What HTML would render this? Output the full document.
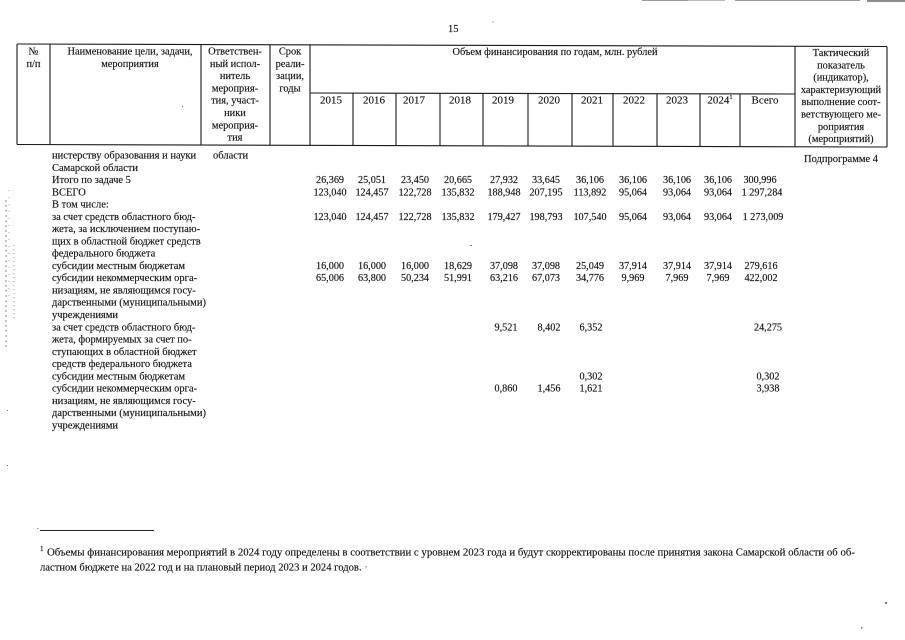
<!DOCTYPE html>
<html><head><meta charset="utf-8"><style>
html,body{margin:0;padding:0;background:#fff;}
svg{display:block;}
text{font-family:"Liberation Serif","DejaVu Serif",serif;fill:#141414;stroke:#141414;stroke-width:0.15;}
</style></head><body>
<svg width="905" height="640" viewBox="0 0 905 640" xmlns="http://www.w3.org/2000/svg">
<rect width="905" height="640" fill="#fff"/>
<!-- scan artifacts -->
<g stroke="#9a9a9a" stroke-width="1" fill="none">
<line x1="642" y1="0.5" x2="700" y2="0.5"/>
<line x1="688" y1="0.5" x2="725" y2="0.5" stroke="#bbb"/>
<line x1="735" y1="0.5" x2="860" y2="0.5"/>
<line x1="867" y1="1" x2="905" y2="1" stroke="#666" stroke-width="1.5"/>
<line x1="6" y1="200" x2="6" y2="350" stroke-dasharray="2,3" stroke="#888"/>
<line x1="14" y1="245" x2="14" y2="320" stroke-dasharray="1,3" stroke="#999"/>
<line x1="9" y1="190" x2="9" y2="300" stroke-dasharray="1,6" stroke="#aaa"/>
</g>
<g fill="#777">
<rect x="492.5" y="21.5" width="1" height="1"/>
<rect x="182" y="106" width="1" height="1"/>
<rect x="885" y="602" width="2" height="2"/>
<rect x="861" y="627" width="1.5" height="1.5"/>
<rect x="470" y="245" width="2" height="1"/>
<rect x="7" y="410" width="1" height="1"/>
<rect x="7" y="465" width="1" height="1"/>
</g>

<!-- page number -->
<text x="448" y="32" font-size="10.5">15</text>

<!-- table lines -->
<g stroke="#1a1a1a" stroke-width="1.1" fill="none">
<line x1="17" y1="44" x2="887" y2="46.5"/>
<line x1="17" y1="144.5" x2="887" y2="147"/>
<line x1="310" y1="93" x2="795" y2="94"/>
<line x1="17" y1="44" x2="17" y2="144.5"/>
<line x1="50" y1="44.1" x2="50" y2="144.6"/>
<line x1="201" y1="44.5" x2="201" y2="145"/>
<line x1="270" y1="44.7" x2="270" y2="145.2"/>
<line x1="310" y1="44.8" x2="310" y2="145.3"/>
<line x1="795" y1="46.2" x2="795" y2="146.7"/>
<line x1="887" y1="46.5" x2="887" y2="147"/>
<line x1="353" y1="93.1" x2="353" y2="145.4"/>
<line x1="396" y1="93.2" x2="396" y2="145.6"/>
<line x1="440" y1="93.3" x2="440" y2="145.7"/>
<line x1="483" y1="93.4" x2="483" y2="145.8"/>
<line x1="528" y1="93.5" x2="528" y2="145.9"/>
<line x1="572" y1="93.5" x2="572" y2="146"/>
<line x1="613" y1="93.6" x2="613" y2="146.2"/>
<line x1="657" y1="93.7" x2="657" y2="146.3"/>
<line x1="700" y1="93.8" x2="700" y2="146.4"/>
<line x1="740" y1="93.9" x2="740" y2="146.5"/>
</g>

<!-- header text -->
<g font-size="10.4" text-anchor="middle">
<text x="33.5" y="54.5">№</text>
<text x="33.5" y="66.8">п/п</text>
<text x="130" y="54.5">Наименование цели, задачи,</text>
<text x="130" y="66.8">мероприятия</text>
<text x="235" y="54.5">Ответствен-</text>
<text x="235" y="66.8">ный испол-</text>
<text x="235" y="79.1">нитель</text>
<text x="235" y="91.4">мероприя-</text>
<text x="235" y="103.7">тия, участ-</text>
<text x="235" y="116">ники</text>
<text x="235" y="128.3">мероприя-</text>
<text x="235" y="140.6">тия</text>
<text x="290" y="54.5">Срок</text>
<text x="290" y="66.8">реали-</text>
<text x="290" y="79.1">зации,</text>
<text x="290" y="91.4">годы</text>
<text x="555" y="55">Объем финансирования по годам, млн. рублей</text>
<g font-size="11">
<text x="331" y="103.5">2015</text>
<text x="374" y="103.5">2016</text>
<text x="414" y="103.5">2017</text>
<text x="460" y="103.5">2018</text>
<text x="503" y="103.5">2019</text>
<text x="549" y="103.5">2020</text>
<text x="592" y="103.5">2021</text>
<text x="634" y="103.5">2022</text>
<text x="677" y="103.5">2023</text>
<text x="720" y="103.5">2024<tspan font-size="6.5" dy="-4.5">1</tspan></text>
<text x="765" y="103.5">Всего</text>
</g>
<text x="841" y="56">Тактический</text>
<text x="841" y="68.3">показатель</text>
<text x="841" y="80.6">(индикатор),</text>
<text x="841" y="92.9">характеризующий</text>
<text x="841" y="105.2">выполнение соот-</text>
<text x="841" y="117.5">ветствующего ме-</text>
<text x="841" y="129.8">роприятия</text>
<text x="841" y="142.1">(мероприятий)</text>
</g>

<!-- body left text -->
<g font-size="10.5">
<text x="52" y="158.5">нистерству образования и науки</text>
<text x="213" y="158.5">области</text>
<text x="804" y="162">Подпрограмме 4</text>
<text x="52" y="170.8">Самарской области</text>
<text x="52" y="183">Итого по задаче 5</text>
<text x="52" y="195.3">ВСЕГО</text>
<text x="52" y="207.6">В том числе:</text>
<text x="52" y="219.9">за счет средств областного бюд-</text>
<text x="52" y="232.1">жета, за исключением поступаю-</text>
<text x="52" y="244.4">щих в областной бюджет средств</text>
<text x="52" y="256.7">федерального бюджета</text>
<text x="52" y="268.9">субсидии местным бюджетам</text>
<text x="52" y="281.2">субсидии некоммерческим орга-</text>
<text x="52" y="293.5">низациям, не являющимся госу-</text>
<text x="52" y="305.7">дарственными (муниципальными)</text>
<text x="52" y="318">учреждениями</text>
<text x="52" y="330.3">за счет средств областного бюд-</text>
<text x="52" y="342.5">жета, формируемых за счет по-</text>
<text x="52" y="354.8">ступающих в областной бюджет</text>
<text x="52" y="367.1">средств федерального бюджета</text>
<text x="52" y="379.4">субсидии местным бюджетам</text>
<text x="52" y="391.6">субсидии некоммерческим орга-</text>
<text x="52" y="403.9">низациям, не являющимся госу-</text>
<text x="52" y="416.2">дарственными (муниципальными)</text>
<text x="52" y="428.4">учреждениями</text>
</g>

<!-- numbers -->
<g font-size="10.2" text-anchor="middle">
<!-- row 2 -->
<text x="330" y="183">26,369</text><text x="372" y="183">25,051</text><text x="415" y="183">23,450</text><text x="458" y="183">20,665</text><text x="504" y="183">27,932</text><text x="546" y="183">33,645</text><text x="590" y="183">36,106</text><text x="633" y="183">36,106</text><text x="677" y="183">36,106</text><text x="718" y="183">36,106</text><text x="760" y="183">300,996</text>
<!-- row 3 -->
<text x="330" y="195.3">123,040</text><text x="372" y="195.3">124,457</text><text x="415" y="195.3">122,728</text><text x="458" y="195.3">135,832</text><text x="504" y="195.3">188,948</text><text x="546" y="195.3">207,195</text><text x="590" y="195.3">113,892</text><text x="633" y="195.3">95,064</text><text x="677" y="195.3">93,064</text><text x="718" y="195.3">93,064</text><text x="762" y="195.3">1 297,284</text>
<!-- row 5 -->
<text x="330" y="219.9">123,040</text><text x="372" y="219.9">124,457</text><text x="415" y="219.9">122,728</text><text x="458" y="219.9">135,832</text><text x="504" y="219.9">179,427</text><text x="546" y="219.9">198,793</text><text x="590" y="219.9">107,540</text><text x="633" y="219.9">95,064</text><text x="677" y="219.9">93,064</text><text x="718" y="219.9">93,064</text><text x="763" y="219.9">1 273,009</text>
<!-- row 9 -->
<text x="330" y="268.9">16,000</text><text x="372" y="268.9">16,000</text><text x="415" y="268.9">16,000</text><text x="458" y="268.9">18,629</text><text x="504" y="268.9">37,098</text><text x="546" y="268.9">37,098</text><text x="590" y="268.9">25,049</text><text x="633" y="268.9">37,914</text><text x="677" y="268.9">37,914</text><text x="718" y="268.9">37,914</text><text x="761" y="268.9">279,616</text>
<!-- row 10 -->
<text x="330" y="281.2">65,006</text><text x="372" y="281.2">63,800</text><text x="415" y="281.2">50,234</text><text x="458" y="281.2">51,991</text><text x="504" y="281.2">63,216</text><text x="546" y="281.2">67,073</text><text x="590" y="281.2">34,776</text><text x="633" y="281.2">9,969</text><text x="677" y="281.2">7,969</text><text x="718" y="281.2">7,969</text><text x="761" y="281.2">422,002</text>
<!-- row 14 -->
<text x="506" y="330.3">9,521</text><text x="549" y="330.3">8,402</text><text x="591" y="330.3">6,352</text><text x="768" y="330.3">24,275</text>
<!-- row 18 -->
<text x="591" y="379.4">0,302</text><text x="768" y="379.4">0,302</text>
<!-- row 19 -->
<text x="506" y="391.6">0,860</text><text x="549" y="391.6">1,456</text><text x="591" y="391.6">1,621</text><text x="768" y="391.6">3,938</text>
</g>

<!-- footnote -->
<line x1="40" y1="530.5" x2="154" y2="530.5" stroke="#222" stroke-width="1"/>
<rect x="37" y="528" width="1.5" height="1" fill="#888"/>
<text x="40" y="551" font-size="7" fill="#222">1</text>
<text x="47" y="555.5" font-size="10.6" fill="#222" textLength="808" lengthAdjust="spacingAndGlyphs">Объемы финансирования мероприятий в 2024 году определены в соответствии с уровнем 2023 года и будут скорректированы после принятия закона Самарской области  об об-</text>
<text x="40" y="570.5" font-size="10.6" fill="#222">ластном бюджете на 2022 год и на плановый период 2023 и 2024 годов. <tspan fill="#888" stroke="#888">·</tspan></text>
</svg>
</body></html>
